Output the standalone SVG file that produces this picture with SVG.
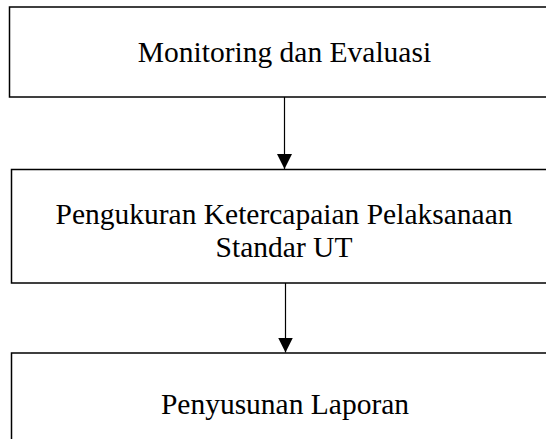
<svg xmlns="http://www.w3.org/2000/svg" width="546" height="439" viewBox="0 0 546 439">
<defs>
<style>
.box{fill:#fff;stroke:#000;stroke-width:1.5}
.lbl{font-family:"Liberation Serif","Times New Roman",serif;font-size:29.5px;fill:#000;text-anchor:middle}
.conn{stroke:#000;stroke-width:1.2;fill:none}
</style>
<marker id="arr" markerWidth="15" markerHeight="17" refX="15" refY="7.5" orient="auto" markerUnits="userSpaceOnUse">
<path d="M0,0 L15,7.5 L0,15 Z" fill="#000"/>
</marker>
</defs>
<rect width="546" height="439" fill="#fff"/>
<g id="node-monitoring">
<rect class="box" x="9.5" y="7" width="560" height="90"/>
<text class="lbl" x="284.5" y="62">Monitoring dan Evaluasi</text>
</g>
<g id="node-pengukuran">
<rect class="box" x="11.5" y="169.5" width="560" height="113.5"/>
<text class="lbl" x="284" y="224">Pengukuran Ketercapaian Pelaksanaan</text>
<text class="lbl" x="284" y="257">Standar UT</text>
</g>
<g id="node-penyusunan">
<rect class="box" x="11.5" y="353" width="560" height="100"/>
<text class="lbl" x="285" y="414">Penyusunan Laporan</text>
</g>
<g id="connectors">
<line class="conn" x1="284.5" y1="97" x2="284.5" y2="169" marker-end="url(#arr)"/>
<line class="conn" x1="285.5" y1="283" x2="285.5" y2="352.5" marker-end="url(#arr)"/>
</g>
</svg>
